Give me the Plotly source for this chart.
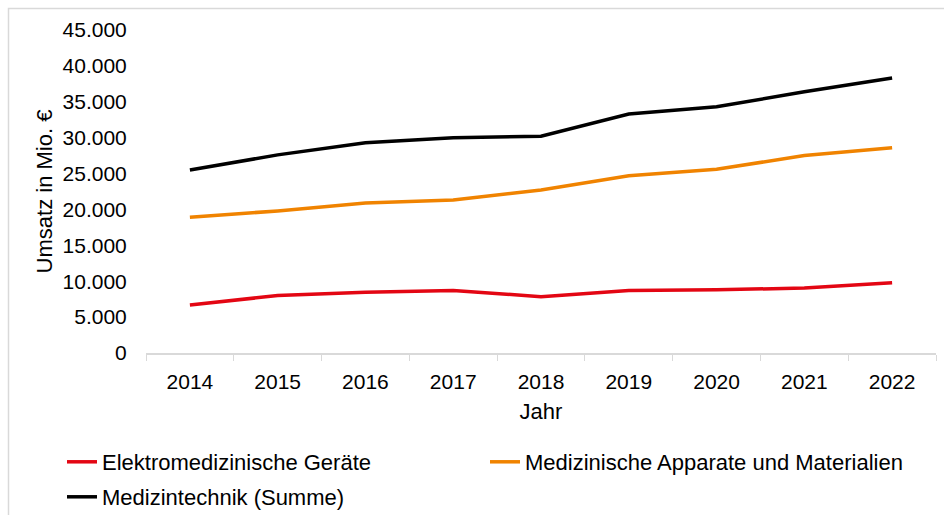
import plotly.graph_objects as go

years = ["2014", "2015", "2016", "2017", "2018", "2019", "2020", "2021", "2022"]
elektro = [6700, 8000, 8450, 8700, 7850, 8700, 8800, 9050, 9800]
apparate = [18900, 19800, 20900, 21300, 22700, 24700, 25600, 27500, 28600]
summe = [25500, 27600, 29300, 30000, 30200, 33300, 34300, 36400, 38300]
y_ticks = [0, 5000, 10000, 15000, 20000, 25000, 30000, 35000, 40000, 45000]

names = ["Elektromedizinische Geräte", "Medizinische Apparate und Materialien", "Medizintechnik (Summe)"]
colors = ["#E30613", "#F08300", "#000000"]
legend_ids = ["legend", "legend2", "legend3"]

W, H = 944, 515
ml, mr, mt, mb = 146, 8, 30, 162
pw, ph = W - ml - mr, H - mt - mb

def px2paper_x(px):
    return (px - ml) / pw

def px2paper_y(py):
    return (H - mb - py) / ph

fig = go.Figure()
for name, vals, col, lg in zip(names, [elektro, apparate, summe], colors, legend_ids):
    fig.add_trace(go.Scatter(x=years, y=vals, mode="lines", name=name, legend=lg,
                             line=dict(color=col, width=3.5)))

def legend_at(px, py):
    return dict(xref="container", yref="container", x=px / W, y=1 - py / H,
                xanchor="left", yanchor="middle", orientation="h",
                font=dict(size=22), bgcolor="rgba(0,0,0,0)", borderwidth=0)

fig.update_layout(
    width=W, height=H,
    margin=dict(l=ml, r=mr, t=mt, b=mb, autoexpand=False),
    paper_bgcolor="white", plot_bgcolor="white",
    separators=",.",
    font=dict(family="Liberation Sans, Arial, sans-serif", size=21, color="#000000"),
    showlegend=True,
    legend=legend_at(62, 462),
    legend2=legend_at(485, 462),
    legend3=legend_at(62, 497),
    xaxis=dict(type="category", range=[-0.5, 8.5], showgrid=False, showline=True,
               linecolor="#D9D9D9", linewidth=1.5,
               ticks="outside", tickson="boundaries", ticklen=6, tickcolor="#D9D9D9",
               tickfont=dict(size=21), ticklabelstandoff=9,
               title=dict(text="Jahr", font=dict(size=22), standoff=12),
               zeroline=False),
    yaxis=dict(range=[0, 45000], tickvals=y_ticks, tickformat=",.0f", showgrid=False,
               showline=False, zeroline=False, ticks="outside", ticklen=14,
               tickcolor="rgba(0,0,0,0)", tickfont=dict(size=21),
               title=dict(text="Umsatz in Mio. €", font=dict(size=22), standoff=3)),
    shapes=[dict(type="rect", xref="paper", yref="paper",
                 x0=px2paper_x(8.5), x1=px2paper_x(960), y0=px2paper_y(540), y1=px2paper_y(8.5),
                 line=dict(color="#D9D9D9", width=1.5), fillcolor="rgba(0,0,0,0)", layer="below")],
)

fig.write_html("out.html", config={"displayModeBar": False},
               post_script="document.body.style.margin='0';")
